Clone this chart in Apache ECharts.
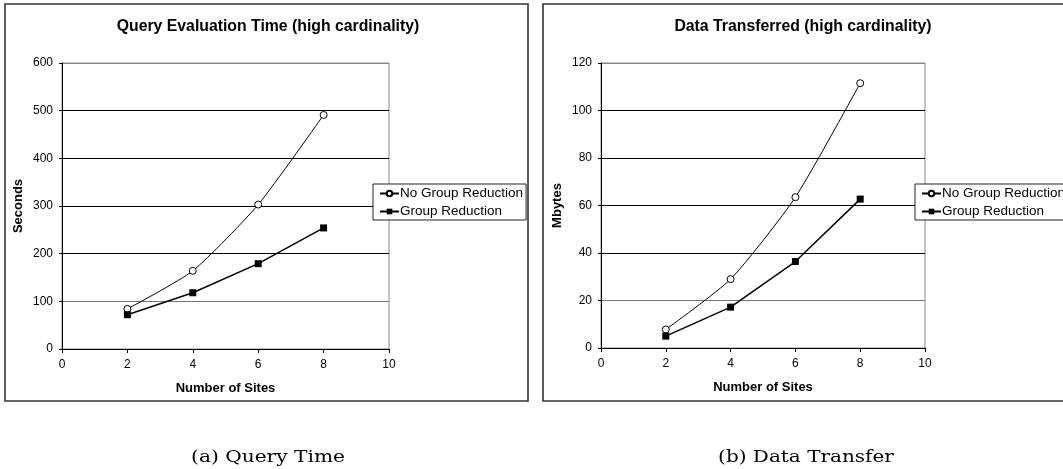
<!DOCTYPE html>
<html>
<head>
<meta charset="utf-8">
<script src="https://cdn.jsdelivr.net/npm/echarts@6/dist/echarts.min.js"></script>
<style>
  html, body { margin: 0; padding: 0; background: #fff; }
  #main { width: 1063px; height: 469px; }
</style>
</head>
<body>
<div id="main"></div>
<script>
// data
var sites = [2, 4, 6, 8];
var timeNoGroup = [84, 164, 303, 491];
var timeGroup = [72, 118, 179, 254];
var mbNoGroup = [7.8, 29, 63.5, 111.5];
var mbGroup = [5, 17.2, 36.4, 62.7];

function pairs(xs, ys) {
  return xs.map(function (x, i) { return [x, ys[i]]; });
}

var font = 'Liberation Sans, Arial, sans-serif';
var serif = '"DejaVu Serif", "Liberation Serif", serif';
// 0 line sits under the axis, the 100 line and the top border look lighter
var gridLineColors = ['#000', '#777', '#000', '#000', '#000', '#000', '#888'];

function xAxisOpt(gridIndex) {
  return {
    type: 'value', gridIndex: gridIndex, min: 0, max: 10, interval: 2,
    name: 'Number of Sites', nameLocation: 'middle', nameGap: 33,
    nameTextStyle: { fontFamily: font, fontSize: 13, fontWeight: 'bold', color: '#000' },
    axisLine: { lineStyle: { color: '#000', width: 1 } },
    axisTick: { show: true, length: 4, lineStyle: { color: '#000' } },
    axisLabel: { fontFamily: font, fontSize: 12, color: '#000', margin: 10 },
    splitLine: { show: false }
  };
}

function yAxisOpt(gridIndex, name, max, interval) {
  return {
    type: 'value', gridIndex: gridIndex, min: 0, max: max, interval: interval,
    name: name, nameLocation: 'middle', nameGap: 37, nameRotate: 90,
    nameTextStyle: { fontFamily: font, fontSize: 13, fontWeight: 'bold', color: '#000' },
    axisLine: { show: true, lineStyle: { color: '#000', width: 1 } },
    axisTick: { show: true, length: 3, lineStyle: { color: '#000' } },
    axisLabel: { fontFamily: font, fontSize: 12, color: '#000', margin: 9 },
    splitLine: { show: true, lineStyle: { color: gridLineColors, width: 1 } }
  };
}

function noGroupSeries(idx, data) {
  return {
    name: 'No Group Reduction', type: 'line', xAxisIndex: idx, yAxisIndex: idx,
    data: data, smooth: 0.2, symbol: 'circle', symbolSize: 7,
    lineStyle: { color: '#000', width: 1 },
    itemStyle: { color: '#fff', borderColor: '#000', borderWidth: 1 },
    animation: false
  };
}

function groupSeries(idx, data) {
  return {
    name: 'Group Reduction', type: 'line', xAxisIndex: idx, yAxisIndex: idx,
    data: data, symbol: 'rect', symbolSize: 7,
    lineStyle: { color: '#000', width: 1.5 },
    itemStyle: { color: '#000' },
    animation: false
  };
}

function legendOpt(left) {
  return {
    left: left, top: 184, orient: 'vertical',
    data: ['No Group Reduction', 'Group Reduction'],
    backgroundColor: '#fff', borderColor: '#222', borderWidth: 1,
    padding: [2, 3, 1, 6], itemGap: 3, itemWidth: 19, itemHeight: 7,
    textStyle: { fontFamily: font, fontSize: 13.5, lineHeight: 15, color: '#000', padding: [0, 0, 0, -4] },
    selectedMode: false
  };
}

var option = {
  animation: false,
  backgroundColor: '#fff',
  grid: [
    { left: 62, top: 63, width: 327, height: 286, show: true, borderColor: '#888', borderWidth: 1 },
    { left: 601, top: 63, width: 324, height: 285, show: true, borderColor: '#888', borderWidth: 1 }
  ],
  xAxis: [xAxisOpt(0), xAxisOpt(1)],
  yAxis: [yAxisOpt(0, 'Seconds', 600, 100), yAxisOpt(1, 'Mbytes', 120, 20)],
  legend: [legendOpt(373), legendOpt(915)],
  series: [
    noGroupSeries(0, pairs(sites, timeNoGroup)),
    groupSeries(0, pairs(sites, timeGroup)),
    noGroupSeries(1, pairs(sites, mbNoGroup)),
    groupSeries(1, pairs(sites, mbGroup))
  ],
  graphic: [
    { type: 'rect', z: -1, shape: { x: 5, y: 4, width: 523, height: 397 },
      style: { fill: 'none', stroke: '#333', lineWidth: 1.6 } },
    { type: 'rect', z: -1, shape: { x: 543, y: 4, width: 530, height: 397 },
      style: { fill: 'none', stroke: '#333', lineWidth: 1.6 } },
    { type: 'text', x: 268, y: 27, style: { text: 'Query Evaluation Time (high cardinality)',
      font: 'bold 15.8px ' + font, fill: '#000', textAlign: 'center', textVerticalAlign: 'middle' } },
    { type: 'text', x: 803, y: 27, style: { text: 'Data Transferred (high cardinality)',
      font: 'bold 15.8px ' + font, fill: '#000', textAlign: 'center', textVerticalAlign: 'middle' } },
    // captions under the two panels
    { type: 'text', x: 268, y: 458, scaleX: 1.26, style: { text: '(a) Query Time',
      font: '16px ' + serif, fill: '#000', textAlign: 'center', textVerticalAlign: 'middle' } },
    { type: 'text', x: 806, y: 458, scaleX: 1.25, style: { text: '(b) Data Transfer',
      font: '16px ' + serif, fill: '#000', textAlign: 'center', textVerticalAlign: 'middle' } }
  ]
};

var myChart = echarts.init(document.getElementById('main'));
myChart.setOption(option);
</script>
</body>
</html>
